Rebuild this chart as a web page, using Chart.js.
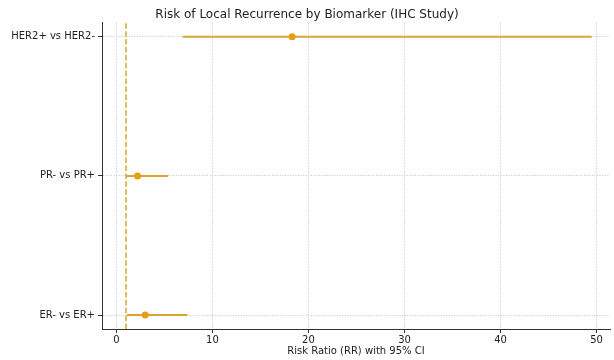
<!DOCTYPE html>
<html><head><meta charset="utf-8">
<script src="https://cdn.jsdelivr.net/npm/chart.js@4"></script>
<style>html,body{margin:0;padding:0;background:#fff;overflow:hidden}#wrap{width:614px;height:360px}</style>
</head><body><div id="wrap"><canvas id="c" width="614" height="360"></canvas></div>
<script>
// ---- data ----
const categories = ['ER- vs ER+', 'PR- vs PR+', 'HER2+ vs HER2-'];
const rr = [3.0, 2.2, 18.3];
const ciLow = [1.1, 1.0, 6.9];
const ciHigh = [7.4, 5.4, 49.5];
const refValue = 1;
const xTicks = [0, 10, 20, 30, 40, 50];
const xRange = [-1.5, 51.4];
const yRange = [-0.1, 2.1];

const LINE = '#D9A630';
const MARK = '#E59E18';
const AX = '#333333';
const GRID = '#c4c4c4';

Chart.defaults.font.family = "'DejaVu Sans', sans-serif";
Chart.defaults.color = '#222';

const datasets = [];
// reference dashed line at RR = 1
datasets.push({
  data: [{x: refValue, y: yRange[0]}, {x: refValue, y: yRange[1]}],
  showLine: true, borderColor: LINE, borderWidth: 1.5, borderDash: [5.5, 2.4],
  pointRadius: 0, order: 3
});
// CI bars
categories.forEach((c, i) => {
  datasets.push({
    data: [{x: ciLow[i], y: i}, {x: ciHigh[i], y: i}],
    showLine: true, borderColor: LINE, borderWidth: 2, pointRadius: 0, order: 2
  });
});
// point estimates
datasets.push({
  data: rr.map((v, i) => ({x: v, y: i})),
  showLine: false, pointRadius: 3.5, pointBackgroundColor: MARK, pointBorderWidth: 0,
  pointBorderColor: MARK, order: 1
});

new Chart(document.getElementById('c'), {
  type: 'scatter',
  data: {datasets},
  options: {
    responsive: false, animation: false, devicePixelRatio: 1,
    layout: {padding: 0},
    plugins: {
      legend: {display: false}, tooltip: {enabled: false},
      title: {display: true, text: 'Risk of Local Recurrence by Biomarker (IHC Study)',
        font: {size: 12, weight: 'normal', lineHeight: 1.4}, color: '#222', padding: {top: 6, bottom: 0}}
    },
    scales: {
      x: {
        type: 'linear', min: xRange[0], max: xRange[1],
        afterBuildTicks: s => { s.ticks = xTicks.map(v => ({value: v})); },
        afterFit: s => { s.height = 31; s.paddingRight = 0; s.paddingLeft = 0; },
        ticks: {font: {size: 10}, color: '#222', padding: 1, maxRotation: 0},
        grid: {color: GRID, lineWidth: 1, tickColor: AX, tickLength: 4, tickWidth: 1},
        border: {color: AX, width: 1, dash: [1, 1.6]},
        title: {display: true, text: 'Risk Ratio (RR) with 95% CI', font: {size: 10}, color: '#222', padding: {top: 2, bottom: 3}}
      },
      y: {
        type: 'linear', min: yRange[0], max: yRange[1],
        afterBuildTicks: s => { s.ticks = categories.map((_, i) => ({value: i})); },
        afterFit: s => { s.width = 102; s.paddingTop = 0; s.paddingBottom = 0; },
        ticks: {font: {size: 10}, color: '#222', padding: 3, callback: v => categories[v] ?? ''},
        grid: {color: GRID, lineWidth: 1, tickColor: AX, tickLength: 4, tickWidth: 1},
        border: {color: AX, width: 1, dash: [1, 1.6]}
      }
    }
  }
});
</script></body></html>
